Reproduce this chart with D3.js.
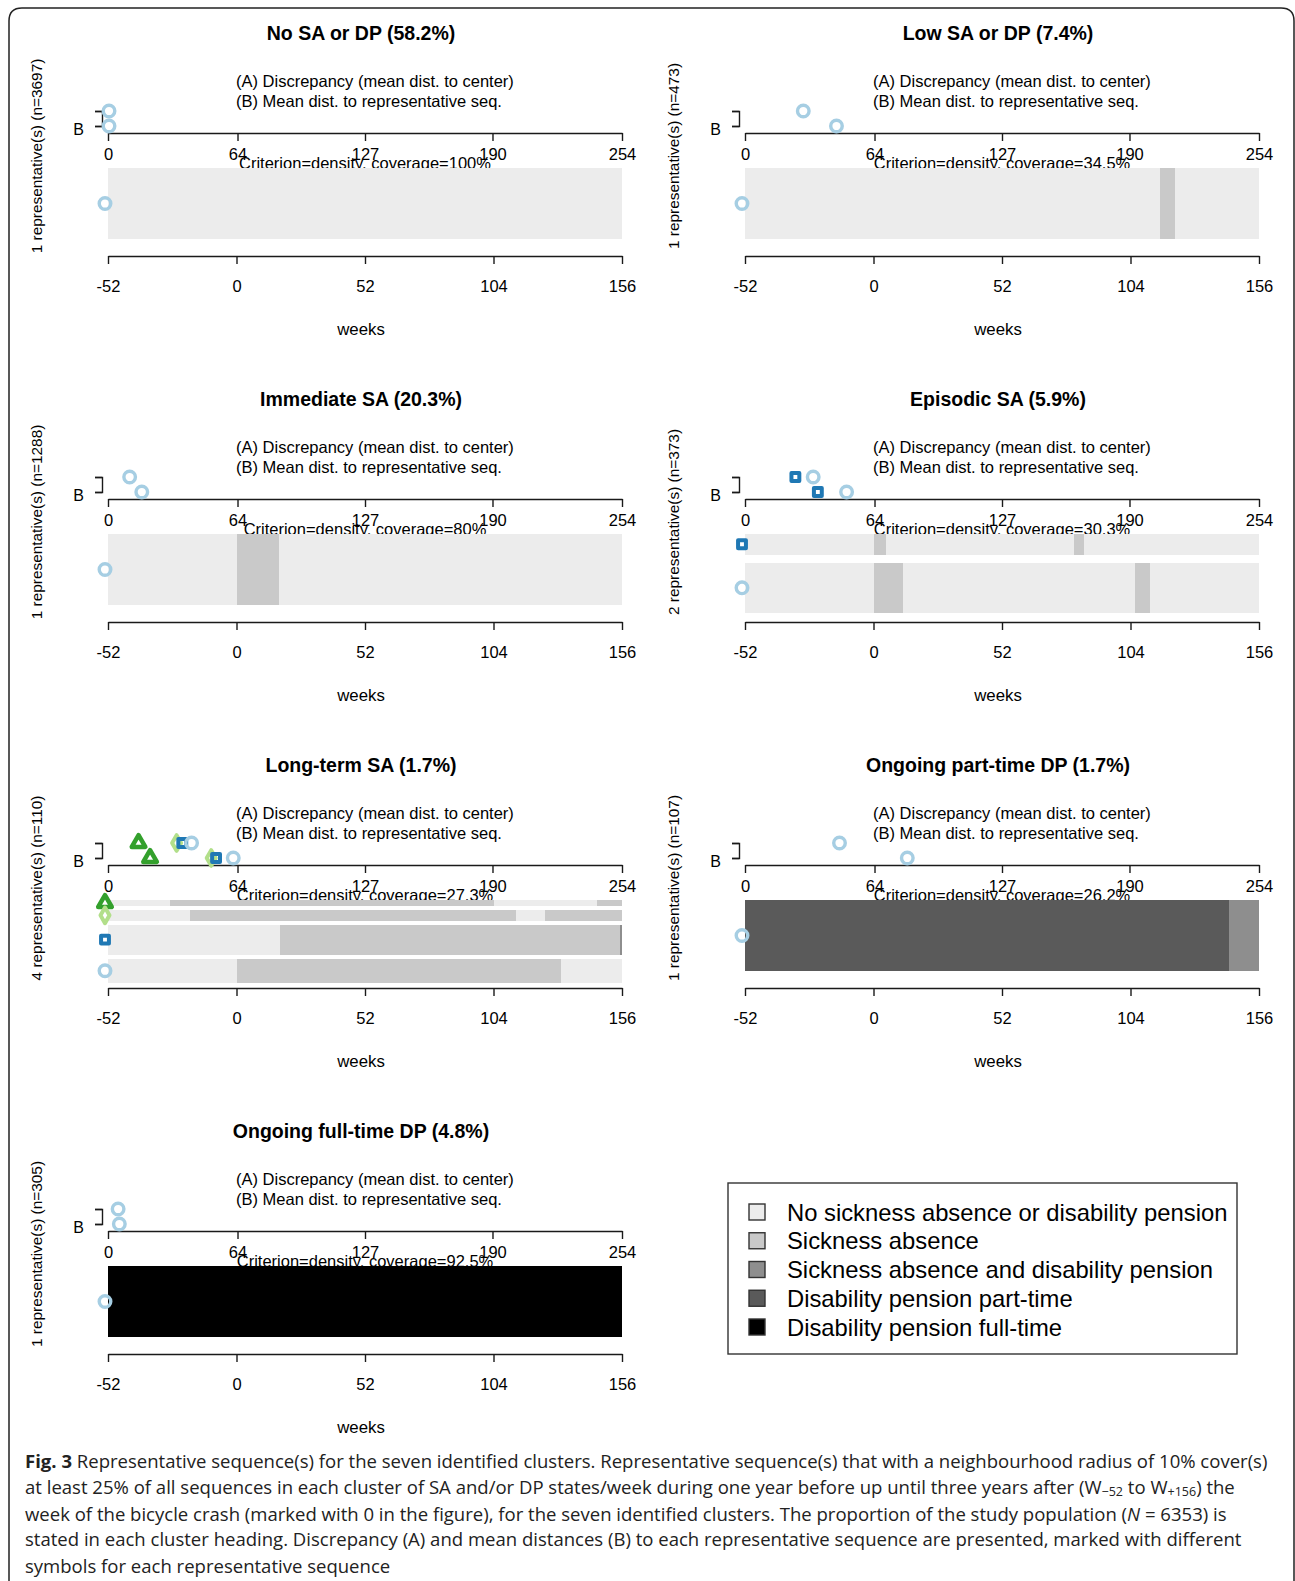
<!DOCTYPE html>
<html>
<head>
<meta charset="utf-8">
<script src="https://cdn.jsdelivr.net/npm/d3@7"></script>
<style>
  body { margin: 0; background: #fff; }
  svg text { font-family: "Liberation Sans", Arial, sans-serif; fill: #000; }
  .caption text { font-family: "Open Sans", "Noto Sans", sans-serif; fill: #222; }
</style>
</head>
<body>
<div id="chart"></div>
<script>
const width = 1295, height = 1581;

// cluster headings, sizes and coverage
const clusterTitles = ["No SA or DP (58.2%)", "Low SA or DP (7.4%)", "Immediate SA (20.3%)", "Episodic SA (5.9%)",
  "Long-term SA (1.7%)", "Ongoing part-time DP (1.7%)", "Ongoing full-time DP (4.8%)"];
const clusterN = [3697, 473, 1288, 373, 110, 107, 305];
const coverage = ["100%", "34.5%", "80%", "30.3%", "27.3%", "26.2%", "92.5%"];

// states of the sequences
const states = ["No sickness absence or disability pension", "Sickness absence",
  "Sickness absence and disability pension", "Disability pension part-time", "Disability pension full-time"];
const stateColors = ["#ececec", "#c9c9c9", "#8e8e8e", "#5a5a5a", "#000000"];

const distTicks = [0, 64, 127, 190, 254];
const weekTicks = [-52, 0, 52, 104, 156];

// share of each representative seq (bar thickness), per cluster
const repShare = [[1], [1], [1], [29, 71], [8.5, 15, 42, 34.5], [1], [1]];
// (A) discrepancy and (B) mean dist. to representative seq
const discA = [[0.5], [28.8], [10.7], [24.9, 33.7], [15.1, 33.9, 36.7, 41.3], [46.7], [5.0]];
const meanDistB = [[0.5], [45.2], [16.7], [36.0, 50.2], [20.8, 51.0, 53.4, 61.9], [80.2], [5.6]];

// spells per representative seq: [state, from week, to week]
const repSpells = [
  [[[0, -52, 156]]],
  [[[0, -52, 116], [1, 116, 122], [0, 122, 156]]],
  [[[0, -52, 0], [1, 0, 17], [0, 17, 156]]],
  [[[0, -52, 0], [1, 0, 5], [0, 5, 81], [1, 81, 85], [0, 85, 156]],
   [[0, -52, 0], [1, 0, 12], [0, 12, 106], [1, 106, 112], [0, 112, 156]]],
  [[[0, -52, -27], [1, -27, 104], [0, 104, 146], [1, 146, 156]],
   [[0, -52, -19], [1, -19, 113], [0, 113, 125], [1, 125, 156]],
   [[0, -52, 17.5], [1, 17.5, 155], [2, 155, 156]],
   [[0, -52, 0], [1, 0, 131.5], [0, 131.5, 156]]],
  [[[3, -52, 144], [2, 144, 156]]],
  [[[4, -52, 156]]]
];

const symbolTypes = [d3.symbolCircle, d3.symbolSquare, d3.symbolDiamond, d3.symbolTriangle];
const symbolSizes = [105, 62, 70, 80];
const symbolStroke = [3.4, 4, 4, 4.5];
const symbolColors = ["#a6cee3", "#1f78b4", "#b2df8a", "#33a02c"];

const svg = d3.select("#chart")
  .append("svg")
  .attr("width", width)
  .attr("height", height)
  .attr("viewBox", [0, 0, width, height]);

// frame round the figure (open at the bottom)
svg.append("path")
  .attr("d", "M9,1600 V21 Q9,8 22,8 H1281 Q1294,8 1294,21 V1600")
  .attr("fill", "none")
  .attr("stroke", "#222")
  .attr("stroke-width", 1.5);

function styleAxis(g, size) {
  g.attr("font-family", null).attr("font-size", size);
  g.selectAll("path, line").attr("stroke", "#1a1a1a").attr("stroke-width", 1.4);
  g.selectAll("text").attr("fill", "#000");
}

clusterTitles.forEach((title, i) => {
  const ox = (i % 2) * 637, oy = Math.floor(i / 2) * 366;
  const g = svg.append("g");
  const n = repShare[i].length;

  const xDist = d3.scaleLinear().domain([0, 254]).range([108 + ox, 622 + ox]);
  const xWeek = d3.scaleLinear().domain([-52, 156]).range([108 + ox, 622 + ox]);
  const yAB = d3.scalePoint().domain(["A", "B"]).range([111 + oy, 126 + oy]);

  g.append("text")
    .attr("x", 361 + ox).attr("y", 33 + oy)
    .attr("text-anchor", "middle").attr("dominant-baseline", "central")
    .attr("font-weight", "bold").attr("font-size", 19.5)
    .text(title);

  g.append("text")
    .attr("transform", `translate(${36 + ox},${156 + oy}) rotate(-90)`)
    .attr("text-anchor", "middle").attr("dominant-baseline", "central")
    .attr("font-size", 15.4)
    .text(`${n} representative(s) (n=${clusterN[i]})`);

  ["(A) Discrepancy (mean dist. to center)", "(B) Mean dist. to representative seq."].forEach((t, k) => {
    g.append("text")
      .attr("x", 236 + ox).attr("y", 81 + oy + k * 20)
      .attr("dominant-baseline", "central").attr("font-size", 16.5)
      .text(t);
  });

  // A / B bracket axis
  g.append("g")
    .attr("transform", `translate(${102 + ox},0)`)
    .call(d3.axisLeft(yAB).tickSize(7).tickSizeOuter(7).tickPadding(11)
      .tickFormat(d => d === "B" ? "B" : ""))
    .call(a => styleAxis(a, 16))
    .call(a => a.selectAll("text").attr("dy", "0.5em"));

  // distance axis
  g.append("g")
    .attr("transform", `translate(0,${133 + oy})`)
    .call(d3.axisBottom(xDist).tickValues(distTicks).tickSize(8).tickSizeOuter(0).tickPadding(7)
      .tickFormat(d => `${d}`))
    .call(a => styleAxis(a, 16.5));

  g.append("text")
    .attr("x", 365 + ox).attr("y", 163 + oy)
    .attr("text-anchor", "middle").attr("dominant-baseline", "central")
    .attr("font-size", 16.5)
    .text(`Criterion=density, coverage=${coverage[i]}`);

  // sequence bars
  const total = 71, gap = n > 1 ? 16 / n : 0;
  const shareSum = d3.sum(repShare[i]);
  let y0 = 168 + oy;
  const bars = repShare[i].map(s => {
    const h = s / shareSum * total;
    const b = { y: y0, h: h };
    y0 += h + gap;
    return b;
  });

  repSpells[i].forEach((spells, j) => {
    g.append("g").selectAll("rect")
      .data(spells)
      .join("rect")
      .attr("x", d => xWeek(d[1]))
      .attr("width", d => xWeek(d[2]) - xWeek(d[1]))
      .attr("y", bars[j].y)
      .attr("height", bars[j].h)
      .attr("fill", d => stateColors[d[0]])
      .attr("shape-rendering", "crispEdges");
  });

  // markers: one symbol per representative, in the bars and on the A/B rows
  const reps = d3.range(n).map(j => ({
    k: n - 1 - j, a: discA[i][j], b: meanDistB[i][j], bar: bars[j]
  }));
  const markers = [];
  reps.forEach(d => {
    markers.push({ k: d.k, x: xWeek(-52) - 3, y: d.bar.y + d.bar.h / 2 });
    markers.push({ k: d.k, x: xDist(d.a), y: yAB("A") });
    markers.push({ k: d.k, x: xDist(d.b), y: yAB("B") });
  });
  g.append("g").selectAll("path")
    .data(markers)
    .join("path")
    .attr("transform", d => `translate(${d.x},${d.y})`)
    .attr("d", d => d3.symbol().type(symbolTypes[d.k]).size(symbolSizes[d.k])())
    .attr("fill", "none")
    .attr("stroke", d => symbolColors[d.k])
    .attr("stroke-width", d => symbolStroke[d.k])
    .attr("stroke-linejoin", "round");

  // week axis (plain hyphen minus, as in the R output)
  g.append("g")
    .attr("transform", `translate(0,${256 + oy})`)
    .call(d3.axisBottom(xWeek).tickValues(weekTicks).tickSize(8).tickSizeOuter(0).tickPadding(16)
      .tickFormat(d => `${d}`))
    .call(a => styleAxis(a, 16.5));

  g.append("text")
    .attr("x", 361 + ox).attr("y", 329 + oy)
    .attr("text-anchor", "middle").attr("dominant-baseline", "central")
    .attr("font-size", 16.8)
    .text("weeks");
});

// legend
const legend = svg.append("g");
legend.append("rect")
  .attr("x", 728).attr("y", 1183).attr("width", 509).attr("height", 171)
  .attr("fill", "#fff").attr("stroke", "#333").attr("stroke-width", 1.4);
const ly = d3.scaleLinear().domain([0, 4]).range([1212, 1327]);
legend.selectAll("rect.sw")
  .data(states)
  .join("rect")
  .attr("class", "sw")
  .attr("x", 749).attr("y", (d, i) => ly(i) - 8)
  .attr("width", 16).attr("height", 16)
  .attr("fill", (d, i) => stateColors[i])
  .attr("stroke", "#333").attr("stroke-width", 1.4);
legend.selectAll("text")
  .data(states)
  .join("text")
  .attr("x", 787).attr("y", (d, i) => ly(i))
  .attr("dominant-baseline", "central")
  .attr("font-size", 23.8)
  .text(d => d);

// caption
const cap = svg.append("g").attr("class", "caption").attr("font-size", 18.55);
const capY = d3.scaleLinear().domain([0, 4]).range([1460, 1565]);
function capLine(i) {
  return cap.append("text").attr("x", 25).attr("y", capY(i)).attr("dominant-baseline", "central");
}
let t = capLine(0);
t.append("tspan").attr("font-weight", "bold").text("Fig. 3");
t.append("tspan").text(" Representative sequence(s) for the seven identified clusters. Representative sequence(s) that with a neighbourhood radius of 10% cover(s)");
t = capLine(1);
t.append("tspan").text("at least 25% of all sequences in each cluster of SA and/or DP states/week during one year before up until three years after (W");
t.append("tspan").attr("font-size", 12.5).attr("dy", 5).text("\u221252");
t.append("tspan").attr("dy", -5).text(" to W");
t.append("tspan").attr("font-size", 12.5).attr("dy", 5).text("+156");
t.append("tspan").attr("dy", -5).text(") the");
t = capLine(2);
t.append("tspan").text("week of the bicycle crash (marked with 0 in the figure), for the seven identified clusters. The proportion of the study population (");
t.append("tspan").attr("font-style", "italic").text("N");
t.append("tspan").text(" = 6353) is");
capLine(3).text("stated in each cluster heading. Discrepancy (A) and mean distances (B) to each representative sequence are presented, marked with different");
capLine(4).text("symbols for each representative sequence");
</script>
</body>
</html>
